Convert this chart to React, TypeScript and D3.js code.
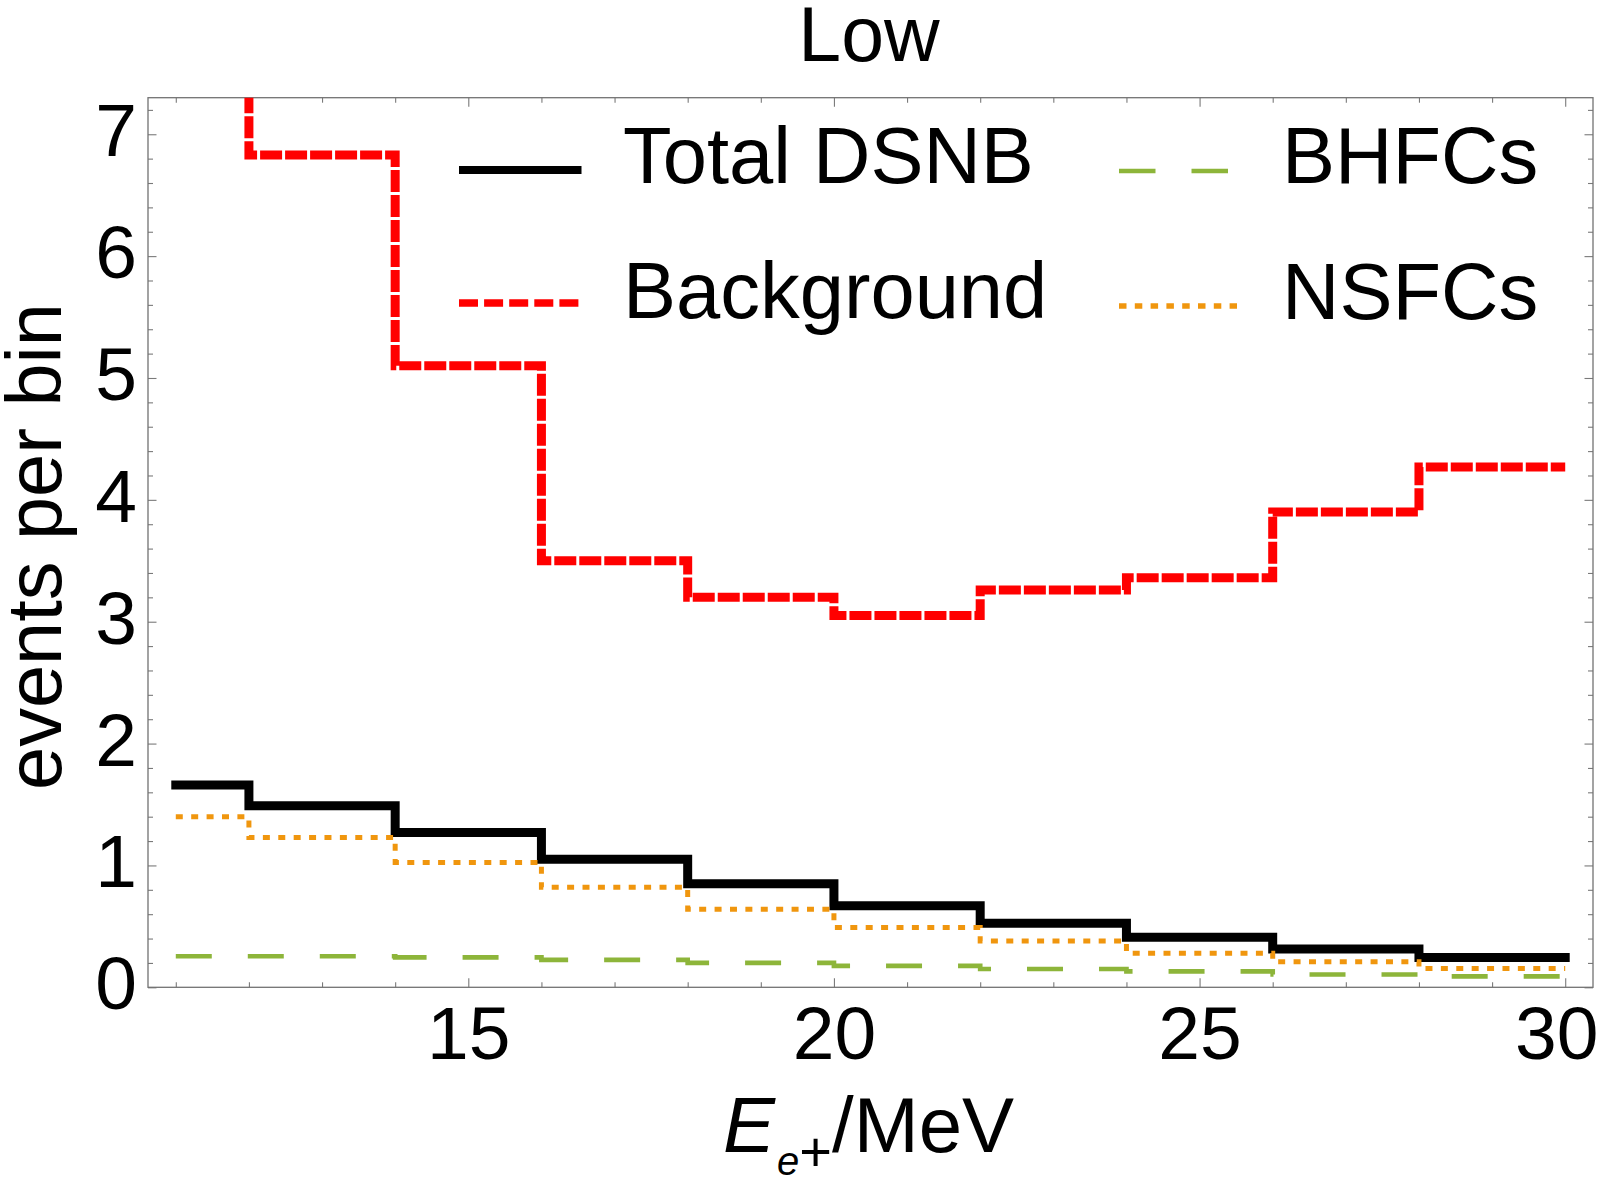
import * as d3 from 'd3'
import { useEffect, useRef } from 'react'

// bin edges in MeV (first bin is half width)
const binEdges = [11, 12, 14, 16, 18, 20, 22, 24, 26, 28, 30]

// events per bin for each component
const totalDSNB = [1.66, 1.49, 1.27, 1.05, 0.85, 0.67, 0.525, 0.41, 0.315, 0.245]
const background = [8.6, 6.83, 5.1, 3.5, 3.2, 3.05, 3.26, 3.36, 3.9, 4.27]
const bhfcs = [0.255, 0.255, 0.245, 0.225, 0.2, 0.175, 0.15, 0.13, 0.105, 0.09]
const nsfcs = [1.4, 1.23, 1.025, 0.82, 0.64, 0.49, 0.38, 0.28, 0.21, 0.155]

const xMajorTicks = [15, 20, 25, 30]
const yMajorTicks = [0, 1, 2, 3, 4, 5, 6, 7]

interface Series {
  name: string
  values: number[]
}

const seriesList: Series[] = [
  { name: 'Total DSNB', values: totalDSNB },
  { name: 'Background', values: background },
  { name: 'BHFCs', values: bhfcs },
  { name: 'NSFCs', values: nsfcs },
]

const styles: Record<string, { color: string; width: number; dash: string | null; legendWidth: number; legendDash: string | null }> = {
  'Total DSNB': { color: '#000000', width: 9, dash: null, legendWidth: 8, legendDash: null },
  Background: { color: '#ff0000', width: 9, dash: '22 3', legendWidth: 7.3, legendDash: '19 6.1' },
  BHFCs: { color: '#8db53a', width: 4.7, dash: '36 36', legendWidth: 4.7, legendDash: '36.5 36' },
  NSFCs: { color: '#f0960e', width: 5, dash: '7 8.4', legendWidth: 5.5, legendDash: '7.5 8.3' },
}

const FONT = '"Liberation Sans", Arial, Helvetica, sans-serif'

const Chart = () => {
  const ref = useRef<HTMLDivElement>(null)

  useEffect(() => {
    document.body.style.margin = '0'
    const root = d3.select(ref.current)
    root.selectAll('*').remove()

    const W = 1605
    const H = 1186
    const left = 148
    const right = 1593
    const top = 97.7
    const bottom = 987.3

    const x = d3.scaleLinear().domain([10.62, 30.38]).range([left, right])
    const y = d3.scaleLinear().domain([0, 7.3]).range([bottom, top])

    const svg = root
      .append('svg')
      .attr('width', W)
      .attr('height', H)
      .style('display', 'block')
      .style('background', '#fff')
      .style('font-family', FONT)

    svg
      .append('defs')
      .append('clipPath')
      .attr('id', 'plot-area')
      .append('rect')
      .attr('x', left)
      .attr('y', top)
      .attr('width', right - left)
      .attr('height', bottom - top)

    // minor ticks every 1 MeV / 0.2 events, major at the labels
    const xMinor = d3.range(11, 31).filter((v) => !xMajorTicks.includes(v))
    const yMinor = d3.range(0, 36.5).map((v) => v / 5).filter((v) => v <= 7.3 && Math.abs(v - Math.round(v)) > 1e-6)

    const tickColor = '#7a7a7a'

    const addAxis = (axis: d3.Axis<d3.NumberValue>, tx: number, ty: number, labels: boolean) => {
      const g = svg
        .append('g')
        .attr('transform', `translate(${tx},${ty})`)
        .style('color', tickColor)
        .call(axis)
      g.select('.domain').remove()
      g.selectAll('line').attr('stroke-width', 1.1)
      g.selectAll('text')
        .attr('fill', '#000')
        .attr('font-family', FONT)
        .attr('font-size', labels ? 75 : 0)
      if (!labels) g.selectAll('text').remove()
      return g
    }

    // bottom and top
    addAxis(d3.axisBottom(x).tickValues(xMinor).tickSize(-5).tickSizeOuter(0).tickFormat(() => ''), 0, bottom, false)
    const xAxisG = addAxis(
      d3.axisBottom(x).tickValues(xMajorTicks).tickSize(-9).tickSizeOuter(0).tickPadding(18.5).tickFormat(d3.format('d')),
      0,
      bottom,
      true
    )
    xAxisG.selectAll('text').attr('dy', '0.71em')
    // last label is pulled in so it stays on the page
    xAxisG
      .selectAll<SVGTextElement, number>('text')
      .filter((d) => d === 30)
      .attr('dx', -9)
    addAxis(d3.axisTop(x).tickValues(xMinor).tickSize(-5).tickSizeOuter(0).tickFormat(() => ''), 0, top, false)
    addAxis(d3.axisTop(x).tickValues(xMajorTicks).tickSize(-9).tickSizeOuter(0).tickFormat(() => ''), 0, top, false)

    // left and right
    addAxis(d3.axisLeft(y).tickValues(yMinor).tickSize(-5).tickSizeOuter(0).tickFormat(() => ''), left, 0, false)
    const yAxisG = addAxis(
      d3.axisLeft(y).tickValues(yMajorTicks).tickSize(-8.5).tickSizeOuter(0).tickPadding(11).tickFormat(d3.format('d')),
      left,
      0,
      true
    )
    yAxisG.selectAll('text').attr('dy', 21.5)
    addAxis(d3.axisRight(y).tickValues(yMinor).tickSize(-5).tickSizeOuter(0).tickFormat(() => ''), right, 0, false)
    addAxis(d3.axisRight(y).tickValues(yMajorTicks).tickSize(-8.5).tickSizeOuter(0).tickFormat(() => ''), right, 0, false)

    // frame
    svg
      .append('rect')
      .attr('x', left)
      .attr('y', top)
      .attr('width', right - left)
      .attr('height', bottom - top)
      .attr('fill', 'none')
      .attr('stroke', '#727272')
      .attr('stroke-width', 1.3)

    // step histograms
    const line = d3
      .line<[number, number]>()
      .x((d) => x(d[0]))
      .y((d) => y(d[1]))
      .curve(d3.curveStepAfter)

    const plot = svg.append('g').attr('clip-path', 'url(#plot-area)')
    seriesList.forEach((s) => {
      const pts: [number, number][] = binEdges.map((e, i) => [e, s.values[Math.min(i, s.values.length - 1)]])
      const st = styles[s.name]
      plot
        .append('path')
        .datum(pts)
        .attr('d', line)
        .attr('fill', 'none')
        .attr('stroke', st.color)
        .attr('stroke-width', st.width)
        .attr('stroke-dasharray', st.dash)
        .attr('stroke-linejoin', 'miter')
        .attr('stroke-linecap', st.dash ? 'butt' : 'square')
    })

    // legend
    const legendItems = [
      { name: 'Total DSNB', x0: 459, x1: 581.5, ly: 170, tx: 623, ty: 182.7 },
      { name: 'Background', x0: 459, x1: 581.5, ly: 303, tx: 623, ty: 317.5 },
      { name: 'BHFCs', x0: 1119, x1: 1237, ly: 171, tx: 1282, ty: 182.7 },
      { name: 'NSFCs', x0: 1119, x1: 1237, ly: 306, tx: 1282, ty: 318.5 },
    ]
    const legend = svg.append('g')
    legendItems.forEach((item) => {
      const st = styles[item.name]
      legend
        .append('line')
        .attr('x1', item.x0)
        .attr('x2', item.x1)
        .attr('y1', item.ly)
        .attr('y2', item.ly)
        .attr('stroke', st.color)
        .attr('stroke-width', st.legendWidth)
        .attr('stroke-dasharray', st.legendDash)
      legend
        .append('text')
        .attr('x', item.tx)
        .attr('y', item.ty)
        .attr('font-size', 79.5)
        .attr('fill', '#000')
        .text(item.name)
    })

    // title
    svg
      .append('text')
      .attr('x', 869)
      .attr('y', 60.7)
      .attr('text-anchor', 'middle')
      .attr('font-size', 77)
      .text('Low')

    // y label
    svg
      .append('text')
      .attr('transform', 'translate(61,546.5) rotate(-90)')
      .attr('text-anchor', 'middle')
      .attr('font-size', 77.5)
      .text('events per bin')

    // x label: E_{e+}/MeV
    const xl = svg.append('text').attr('x', 723).attr('y', 1151.5).attr('font-size', 78)
    xl.append('tspan').attr('font-style', 'italic').text('E')
    xl.append('tspan').attr('font-style', 'italic').attr('font-size', 40).attr('dx', 2).attr('dy', 23.5).text('e')
    xl.append('tspan').attr('font-size', 56).attr('dy', -4.5).text('+')
    xl.append('tspan').attr('dy', -19).text('/MeV')
  }, [])

  return <div ref={ref}></div>
}

export default function App() {
  return <Chart />
}
